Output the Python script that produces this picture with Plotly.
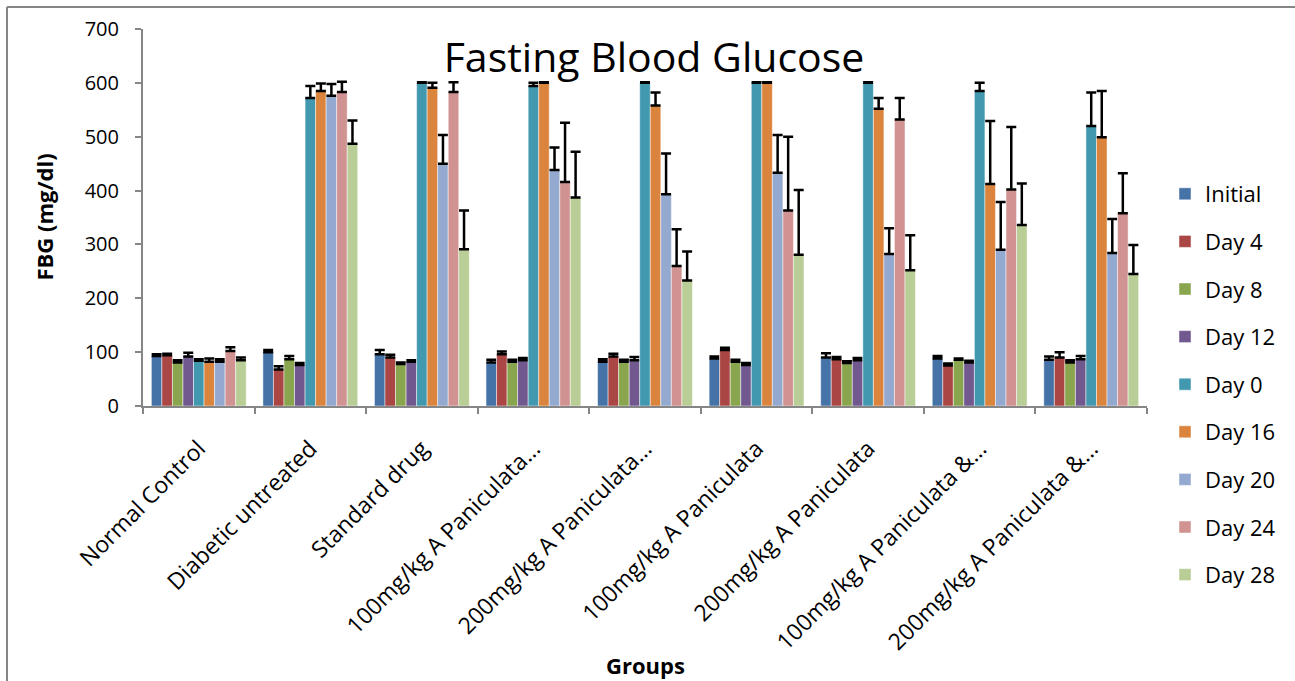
import plotly.graph_objects as go

categories = ["Normal Control", "Diabetic untreated", "Standard drug",
              "100mg/kg A Paniculata…", "200mg/kg A Paniculata…",
              "100mg/kg A Paniculata", "200mg/kg A Paniculata",
              "100mg/kg A Paniculata &…", "200mg/kg A Paniculata &…"]

series_names = ["Initial", "Day 4", "Day 8", "Day 12", "Day 0", "Day 16", "Day 20", "Day 24", "Day 28"]

initial = [93, 100, 96, 81, 82, 88, 90, 88, 86]
initial_err = [3, 4, 8, 5, 5, 4, 8, 5, 6]
day4 = [94, 68, 90, 96, 92, 104, 87, 75, 90]
day4_err = [3, 6, 5, 5, 5, 4, 4, 4, 10]
day8 = [81, 87, 78, 82, 82, 82, 80, 86, 81]
day8_err = [4, 6, 3, 4, 4, 4, 3, 2, 4]
day12 = [92, 76, 82, 85, 85, 76, 85, 81, 87]
day12_err = [7, 4, 3, 4, 6, 4, 4, 3, 6]
day0 = [84, 572, 600, 594, 600, 600, 600, 585, 520]
day0_err = [3, 22, 1, 6, 1, 1, 1, 15, 62]
day16 = [82, 585, 591, 600, 558, 600, 552, 412, 499]
day16_err = [6, 14, 9, 1, 24, 1, 20, 117, 86]
day20 = [82, 576, 450, 438, 393, 433, 282, 290, 284]
day20_err = [5, 22, 53, 42, 76, 70, 48, 89, 63]
day24 = [102, 583, 583, 416, 260, 363, 532, 402, 358]
day24_err = [7, 19, 18, 110, 68, 137, 40, 116, 74]
day28 = [85, 487, 291, 387, 233, 281, 252, 336, 245]
day28_err = [5, 43, 72, 85, 54, 120, 65, 77, 54]

values = [initial, day4, day8, day12, day0, day16, day20, day24, day28]
errors = [initial_err, day4_err, day8_err, day12_err, day0_err, day16_err, day20_err, day24_err, day28_err]
colors = ["#4572A7", "#AA4643", "#89A54E", "#71588F", "#4198AF", "#DB843D", "#93A9CF", "#D19392", "#B9CD96"]

FONT = "Open Sans"

fig = go.Figure()
for name, vals, errs, col in zip(series_names, values, errors, colors):
    fig.add_trace(go.Bar(
        name=name, x=categories, y=vals,
        marker=dict(color=col, line=dict(color="rgba(255,255,255,0.6)", width=0.8)),
        error_y=dict(type="data", array=errs, arrayminus=[0] * len(errs), symmetric=False,
                     color="black", thickness=2.5, width=5),
        legendgroup=name,
    ))

L, R, T, B = 143, 148, 29, 275
W, H = 1295, 681
pw, ph = W - L - R, H - T - B

def px_x(p):
    return (p - L) / pw

def px_y(p):
    return (H - B - p) / ph

fig.update_layout(
    width=W, height=H,
    margin=dict(l=L, r=R, t=T, b=B, autoexpand=False),
    paper_bgcolor="white", plot_bgcolor="white",
    barmode="group", bargap=0.15, bargroupgap=0,
    font=dict(family=FONT, color="black"),
    title=dict(text="Fasting Blood Glucose", x=654 / W, xanchor="center",
               y=1 - 58 / H, yanchor="middle", font=dict(size=41, family=FONT)),
    xaxis=dict(type="category", showgrid=False, showline=True, linecolor="#868686", linewidth=2,
               ticks="outside", tickson="boundaries", ticklen=6, tickcolor="#868686", tickwidth=2,
               tickangle=-45, tickfont=dict(size=23, family=FONT), ticklabelstandoff=18),
    yaxis=dict(range=[0, 700], dtick=100, showgrid=False, showline=True, linecolor="#868686",
               linewidth=2, ticks="outside", ticklen=6, tickcolor="#868686", tickwidth=2,
               tickfont=dict(size=20, family=FONT), zeroline=False, ticklabelstandoff=12),
    legend=dict(x=px_x(1165), xanchor="left", y=px_y(173), yanchor="top",
                font=dict(size=22, family=FONT), tracegroupgap=16, itemwidth=30,
                bgcolor="rgba(0,0,0,0)", maxheight=560),
    showlegend=True,
    annotations=[
        dict(text="<b>FBG (mg/dl)</b>", x=px_x(43), y=0.5, xref="paper", yref="paper",
             textangle=-90, showarrow=False, font=dict(size=22, family=FONT),
             xanchor="center", yanchor="middle"),
        dict(text="<b>Groups</b>", x=px_x(645), y=px_y(665), xref="paper", yref="paper",
             showarrow=False, font=dict(size=22, family=FONT), xanchor="center", yanchor="middle"),
    ],
    shapes=[
        dict(type="line", xref="paper", yref="paper", x0=px_x(7), x1=px_x(1300), y0=px_y(7), y1=px_y(7),
             line=dict(color="#868686", width=2)),
        dict(type="line", xref="paper", yref="paper", x0=px_x(7), x1=px_x(7), y0=px_y(7), y1=px_y(690),
             line=dict(color="#868686", width=2)),
    ],
)

fig.write_html("out.html", config={"displayModeBar": False},
               post_script="document.body.style.margin='0';document.body.style.overflow='hidden';")
